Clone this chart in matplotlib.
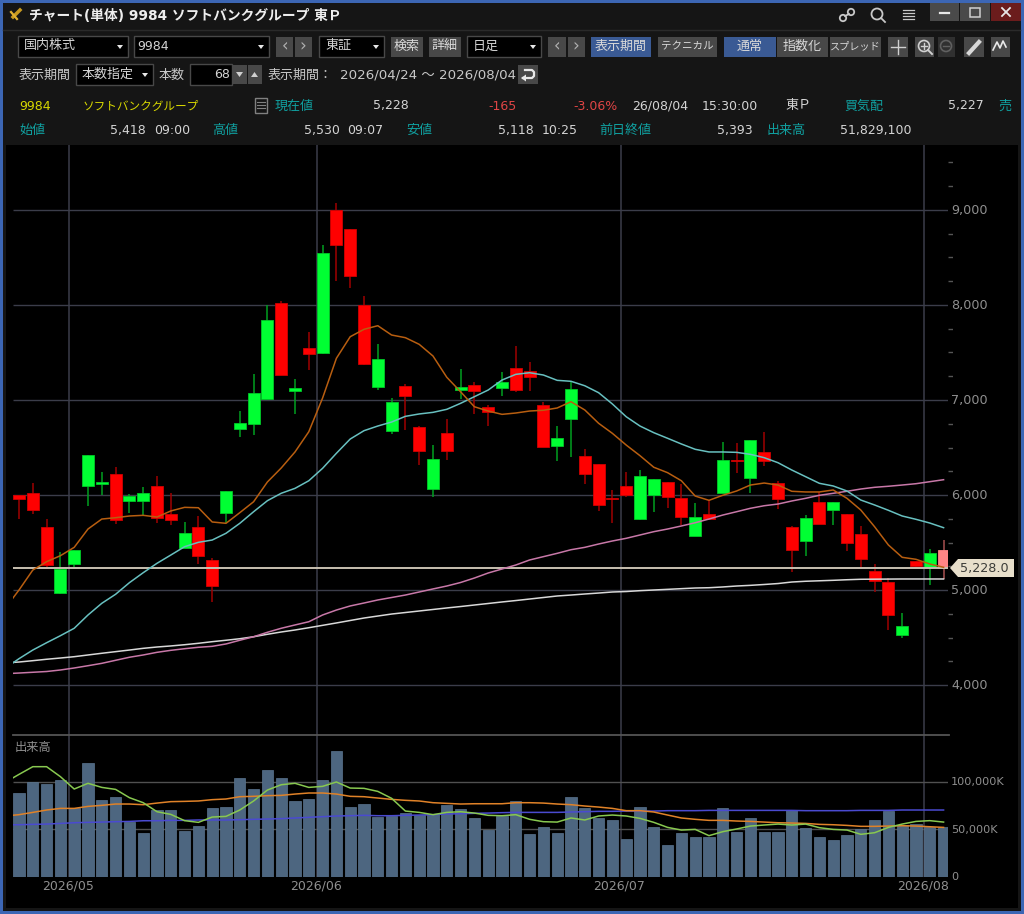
#!/usr/bin/env python3
"""チャート(単体) 9984 日足 - ローソク足 + 移動平均 + 出来高"""
import matplotlib
matplotlib.use("Agg")
import matplotlib.pyplot as plt
from matplotlib.patches import Rectangle, Polygon, Circle

plt.rcParams["font.family"] = ["DejaVu Sans", "Noto Sans CJK JP"]

W, H = 1024, 914

# ── data ──
opens = [6003, 6018, 5658, 4965, 5274, 6098, 6119, 6221, 5932, 5940, 6099, 5800, 5442, 5660, 5316, 5811, 6695,
         6747, 7014, 8021, 7095, 7551, 7492, 9003, 8803, 8000, 7137, 6669, 7151, 6716, 6063, 6649, 7105, 7155,
         6923, 7123, 7340, 7302, 6944, 6519, 6797, 6414, 6323, 5972, 6092, 5751, 5997, 6134, 5965, 5565, 5797,
         6018, 6372, 6179, 6453, 6126, 5663, 5519, 5929, 5842, 5800, 5586, 5200, 5084, 4523, 5305, 5245, 5418]
highs = [6003, 6123, 5750, 5397, 5424, 6424, 6242, 6291, 6010, 6087, 6204, 6018, 5719, 5779, 5341, 6042, 6884,
         7277, 7997, 8039, 7221, 7712, 8628, 9074, 8803, 8098, 7586, 7021, 7172, 6726, 6529, 6797, 7326, 7186,
         6944, 7295, 7565, 7397, 6976, 6726, 7197, 6487, 6323, 6049, 6242, 6266, 6172, 6134, 6116, 5919, 5947,
         6558, 6544, 6576, 6663, 6147, 5671, 5789, 6032, 5923, 5800, 5671, 5271, 5129, 4755, 5305, 5428, 5530]
lows = [5747, 5800, 5236, 4958, 5245, 5884, 6003, 5698, 5811, 5783, 5709, 5684, 5442, 5274, 4877, 5702, 6611,
        6635, 7007, 7266, 6856, 7316, 7484, 8256, 8176, 7368, 7102, 6639, 6687, 6313, 5976, 6368, 7007, 6853,
        6726, 7045, 7087, 7098, 6502, 6355, 6400, 6116, 5828, 5708, 5976, 5740, 5824, 5866, 5681, 5565, 5747,
        6018, 6228, 6018, 6305, 5856, 5189, 5361, 5692, 5684, 5407, 5218, 4979, 4579, 4498, 5239, 5056, 5118]
closes = [5961, 5845, 5263, 5221, 5424, 6424, 6137, 5742, 5989, 6018, 5762, 5742, 5597, 5358, 5037, 6042, 6758,
          7070, 7842, 7266, 7126, 7488, 8544, 8628, 8308, 7376, 7429, 6979, 7045, 6460, 6376, 6466, 7140, 7098,
          6877, 7189, 7108, 7239, 6508, 6600, 7119, 6224, 5892, 5958, 5997, 6197, 6172, 5976, 5768, 5765, 5747,
          6372, 6361, 6576, 6358, 5958, 5421, 5755, 5698, 5923, 5498, 5326, 5091, 4740, 4624, 5256, 5393, 5228]

# moving averages: first value belongs to the bar just before the window
ma_short = [4807, 5000, 5210, 5298, 5361, 5449, 5642, 5747, 5761, 5779, 5786, 5768, 5832, 5870, 5866, 5716, 5702,
            5814, 5929, 6137, 6284, 6453, 6666, 7021, 7439, 7666, 7744, 7782, 7684, 7656, 7586, 7463, 7239, 7087,
            6929, 6884, 6849, 6863, 6884, 6892, 6916, 6982, 6895, 6755, 6649, 6526, 6414, 6292, 6235, 6150, 5989,
            5944, 5997, 6042, 6105, 6126, 6105, 6039, 6032, 6032, 6053, 5965, 5842, 5666, 5474, 5344, 5323, 5274, 5239]
ma_mid = [4176, 4277, 4368, 4445, 4519, 4597, 4737, 4860, 4955, 5077, 5182, 5281, 5368, 5456, 5502, 5526, 5597,
          5702, 5824, 5940, 6018, 6070, 6150, 6281, 6439, 6589, 6677, 6726, 6768, 6828, 6853, 6870, 6902, 6965,
          7035, 7105, 7210, 7270, 7287, 7263, 7207, 7197, 7150, 7077, 6958, 6824, 6726, 6656, 6597, 6537, 6481,
          6453, 6453, 6449, 6428, 6393, 6340, 6263, 6193, 6123, 6095, 6042, 5947, 5895, 5839, 5779, 5744, 5705, 5656]
ma_long = [4119, 4126, 4134, 4142, 4158, 4179, 4203, 4228, 4260, 4292, 4316, 4344, 4365, 4382, 4397, 4407, 4432,
           4471, 4508, 4555, 4597, 4632, 4666, 4737, 4789, 4832, 4863, 4895, 4921, 4947, 4979, 5011, 5042, 5079,
           5126, 5179, 5221, 5263, 5316, 5351, 5386, 5424, 5449, 5484, 5516, 5544, 5579, 5614, 5642, 5674, 5708,
           5747, 5789, 5824, 5860, 5887, 5905, 5937, 5965, 5997, 6018, 6039, 6063, 6081, 6092, 6105, 6119, 6140, 6161]
ma_year = [4232, 4242, 4256, 4271, 4284, 4298, 4316, 4334, 4351, 4368, 4386, 4400, 4411, 4424, 4439, 4456, 4471,
           4487, 4508, 4534, 4558, 4579, 4603, 4628, 4653, 4679, 4705, 4726, 4747, 4763, 4779, 4795, 4811, 4826,
           4842, 4858, 4874, 4889, 4905, 4921, 4937, 4947, 4958, 4968, 4979, 4984, 4993, 5000, 5007, 5014, 5021,
           5024, 5032, 5042, 5049, 5058, 5068, 5084, 5092, 5097, 5102, 5108, 5113, 5114, 5115, 5116, 5116, 5116, 5116]

volume = [87700, 100000, 97500, 101800, 71900, 119300, 80700, 83500, 57200, 46300, 70200, 70200, 48400, 53700,
          71900, 73000, 103500, 91900, 111900, 103500, 79300, 81400, 101800, 132600, 73000, 76500, 63200, 64200,
          67400, 64900, 66000, 75400, 70900, 62100, 49100, 63900, 79700, 44900, 52600, 46000, 83500, 71900, 61400,
          60000, 40000, 73700, 52600, 33700, 46300, 42100, 41800, 72300, 47400, 62100, 47400, 47000, 69800, 51200,
          41400, 38600, 43500, 50200, 59700, 69500, 54400, 55400, 52600, 51829]
vol_ma_short = [99300, 107700, 115800, 115800, 105300, 92300, 98300, 94000, 91900, 83200, 77900, 68400, 65600,
                59000, 57200, 62800, 63500, 70200, 79700, 91200, 96800, 98300, 94000, 95100, 99700, 93300, 93000,
                89800, 82500, 69100, 67700, 65300, 67700, 68400, 67000, 64600, 64200, 65300, 60400, 57900, 57500,
                61800, 59700, 63900, 64900, 63900, 61400, 57200, 51900, 49100, 49800, 43200, 47400, 50200, 53300,
                54400, 55400, 54400, 55400, 51600, 49800, 49100, 44600, 46300, 51900, 55400, 58200, 59000, 57500]
vol_ma_mid = [63900, 65300, 67700, 70200, 71900, 71900, 74000, 75100, 76500, 76500, 75800, 77500, 79000, 79300,
              79700, 81100, 81800, 84200, 84600, 85300, 85600, 87000, 88100, 88100, 87000, 84600, 84200, 82800,
              81400, 80400, 79700, 77900, 77200, 76500, 76800, 76800, 76800, 77900, 77900, 77500, 76500, 75800,
              74400, 73300, 71900, 69500, 69500, 68100, 64900, 61800, 60400, 59300, 59300, 58600, 58200, 57500,
              56800, 56500, 56100, 55100, 54700, 54000, 53000, 53000, 53300, 53700, 53300, 52600, 51900]
vol_ma_long = [54600, 54700, 55100, 55400, 56100, 56800, 57200, 57500, 57900, 58200, 58900, 58900, 59300, 59300,
               59700, 59700, 59700, 60000, 60400, 60700, 61100, 61800, 62500, 63200, 63900, 64200, 64600, 64200,
               64200, 64600, 64900, 65300, 66000, 66300, 66700, 67000, 67400, 67700, 67700, 67700, 67700, 68100,
               68400, 68800, 68800, 69100, 69100, 69100, 69500, 69500, 69500, 69800, 69800, 69800, 69800, 69800,
               69800, 69800, 69500, 69500, 69500, 69500, 69800, 69800, 69800, 70200, 70200, 70200, 70200]

month_pos = [3.6, 21.6, 43.6, 65.6]
month_labels = ["2026/05", "2026/06", "2026/07", "2026/08"]
price_ticks = [4000, 5000, 6000, 7000, 8000, 9000]
price_minor = [4250, 4500, 4750, 5250, 5500, 5750, 6250, 6500, 6750, 7250, 7500, 7750, 8250, 8500, 8750, 9250, 9500]
vol_ticks = [50000, 100000]
last_price = 5228.0

BG = "#151515"; GRID = "#3b3d4a"; LABEL = "#8f8f8f"; TXT = "#d4d4d4"; TEAL = "#10a0a0"; YEL = "#d8d800"
BTN = "#484848"; BLUE = "#3a5a94"; UP = "#00ff33"; DOWN = "#ff0000"


def px_axes(x0, y0, x1, y1, **kw):
    return fig.add_axes([x0 / W, 1 - y1 / H, (x1 - x0) / W, (y1 - y0) / H], **kw)


fig = plt.figure(figsize=(W / 100, H / 100), dpi=100, facecolor=BG)

# ── window chrome (pixel coordinates) ──
ui = px_axes(0, 0, W, H, zorder=0)
ui.set_xlim(0, W); ui.set_ylim(H, 0); ui.axis("off")
top = px_axes(0, 0, W, H, zorder=5)
top.set_xlim(0, W); top.set_ylim(H, 0); top.axis("off"); top.patch.set_alpha(0)


def rect(x0, y0, x1, y1, fc, ec="none", lw=0.8):
    ui.add_patch(Rectangle((x0, y0), x1 - x0, y1 - y0, fc=fc, ec=ec, lw=lw))


def text(x, y, s, color=TXT, size=None, ha="left", **kw):
    if size is None:
        size = 9.0 if s.isascii() else 9.4
    top.text(x, y, s, color=color, fontsize=size, ha=ha, va="center", **kw)


def button(x0, y0, x1, y1, label="", fc=BTN, color="#d8d8d8", size=None):
    rect(x0, y0, x1, y1, fc)
    if label:
        text((x0 + x1) / 2, (y0 + y1) / 2 - 0.5, label, color=color, ha="center", size=size)


def combo(x0, y0, x1, y1, label, lx=None):
    rect(x0, y0, x1, y1, "#000000", ec="#484848", lw=1)
    text(lx or x0 + 6, (y0 + y1) / 2 - 0.5, label)
    top.add_patch(Polygon([(x1 - 11, y0 + 9), (x1 - 5, y0 + 9), (x1 - 8, y0 + 13)], fc="#e8e8e8", ec="none"))


def arrows(x0, y0, x1, y1):
    mid = (x0 + x1) / 2
    rect(x0, y0, mid - 1, y1, BTN); rect(mid + 1, y0, x1, y1, BTN)
    text((x0 + mid) / 2, (y0 + y1) / 2 - 1, "‹", color="#b0b0b0", ha="center", size=12)
    text((mid + x1) / 2, (y0 + y1) / 2 - 1, "›", color="#b0b0b0", ha="center", size=12)


rect(6, 145, 1018, 908, "#000000")
# blue frame
rect(0, 0, W, 2.5, "#3c66b4"); rect(0, 911, W, H, "#3c66b4"); rect(0, 0, 2.5, H, "#3c66b4"); rect(1021, 0, W, H, "#3c66b4")
ui.plot([3, 1020], [30, 30], color="#2a2a2a", lw=1)

# title bar
top.plot([13, 20], [17, 10], color="#c89a20", lw=2.5)
top.plot([11, 17], [12, 19], color="#e0b030", lw=1.6)
text(29, 16, "チャート(単体) 9984 ソフトバンクグループ 東Ｐ", color="#eeeeee", size=9.9, fontweight="bold")
top.add_patch(Circle((851, 12), 3.2, fc="none", ec="#c8c8c8", lw=1.3))
top.add_patch(Circle((843, 18), 3.2, fc="none", ec="#c8c8c8", lw=1.3))
top.plot([845, 849], [16, 14], color="#c8c8c8", lw=1.3)
top.add_patch(Circle((877, 14), 5.5, fc="none", ec="#c8c8c8", lw=1.3))
top.plot([881, 885], [18, 22], color="#c8c8c8", lw=1.3)
for yy in (10, 13, 16, 19):
    top.plot([903, 914], [yy, yy], color="#c8c8c8", lw=0.9)
rect(930, 3, 959, 21, "#4a4a4a"); rect(960, 3, 990, 21, "#4a4a4a"); rect(991, 3, 1021, 21, "#6b1c1c")
top.plot([940, 949], [13, 13], color="#e8e8e8", lw=1.6)
top.add_patch(Rectangle((970, 8), 10, 9, fc="none", ec="#d0d0d0", lw=1.1))
top.plot([1002, 1010], [8, 16], color="#e8e8e8", lw=1.3); top.plot([1002, 1010], [16, 8], color="#e8e8e8", lw=1.3)

# row 1
combo(18, 36, 128, 57, "国内株式"); combo(134, 36, 269, 57, "9984", lx=137)
arrows(276, 37, 312, 57)
combo(319, 36, 384, 57, "東証")
button(391, 37, 423, 57, "検索"); button(429, 37, 461, 57, "詳細")
combo(467, 36, 541, 57, "日足")
arrows(548, 37, 585, 57)
button(591, 37, 651, 57, "表示期間", fc=BLUE)
button(658, 37, 717, 57, "テクニカル", size=7.6)
button(724, 37, 776, 57, "通常", fc=BLUE)
button(777, 37, 828, 57, "指数化"); button(830, 37, 881, 57, "スプレッド", size=7.3)
button(888, 37, 908, 57); top.plot([898, 898], [40, 54], color="#d0d0d0", lw=1); top.plot([891, 905], [47, 47], color="#d0d0d0", lw=1)
button(915, 37, 934, 57); top.add_patch(Circle((924, 46), 5.5, fc="none", ec="#d0d0d0", lw=1.2))
top.plot([921, 927], [46, 46], color="#d0d0d0", lw=1); top.plot([924, 924], [43, 49], color="#d0d0d0", lw=1); top.plot([928, 932], [50, 54], color="#d0d0d0", lw=1.4)
button(938, 37, 955, 57, fc="#303030"); top.add_patch(Circle((946, 46), 5.5, fc="none", ec="#606060", lw=1.2))
top.plot([943, 949], [46, 46], color="#606060", lw=1)
button(964, 37, 984, 57); top.plot([969, 979], [53, 42], color="#d8d8d8", lw=3)
button(991, 37, 1010, 57); top.plot([993, 997, 1000, 1003, 1006], [50, 42, 48, 41, 47], color="#e8e8e8", lw=1.2)

# row 2
text(19, 75.5, "表示期間", color="#c8c8c8")
combo(76, 64, 153, 85, "本数指定")
text(159, 75.5, "本数", color="#c8c8c8")
rect(190, 64, 232, 85, "#000000", ec="#484848", lw=1)
text(230, 75, "68", ha="right")
rect(233, 65, 247, 84, BTN); rect(248, 65, 262, 84, BTN)
top.add_patch(Polygon([(236, 72), (243, 72), (239.5, 77)], fc="#d0d0d0", ec="none"))
top.add_patch(Polygon([(251, 77), (258, 77), (254.5, 72)], fc="#d0d0d0", ec="none"))
text(268, 75.5, "表示期間：", color="#c8c8c8")
text(340, 75.5, "2026/04/24 〜 2026/08/04", color="#c8c8c8", size=9.6)
button(518, 65, 538, 84)
top.plot([525, 532, 534, 534, 532, 523], [70, 70, 72, 76, 78, 78], color="#e8e8e8", lw=1.6)
top.add_patch(Polygon([(521, 78), (526, 74.5), (526, 81.5)], fc="#e8e8e8", ec="none"))

# row 3 / row 4
text(19, 106, "9984", color=YEL); text(83, 106, "ソフトバンクグループ", color=YEL, size=8.4)
top.add_patch(Rectangle((255, 98), 12, 15, fc="none", ec="#808080", lw=1))
for yy in (102, 105, 108):
    top.plot([257, 265], [yy, yy], color="#808080", lw=0.8)
text(275, 106, "現在値", color=TEAL); text(373, 106, "5,228")
text(517, 106, "-165", color="#e04545", ha="right"); text(618, 106, "-3.06%", color="#e04545", ha="right")
text(632, 106, "26/08/04"); text(702, 106, "15:30:00"); text(785, 106, "東Ｐ")
text(844, 106, "買気配", color=TEAL); text(984, 106, "5,227", ha="right"); text(998, 106, "売", color=TEAL)
for x, s, c in [(19, "始値", TEAL), (110, "5,418", TXT), (154, "09:00", TXT), (212, "高値", TEAL), (304, "5,530", TXT),
                (347, "09:07", TXT), (406, "安値", TEAL), (498, "5,118", TXT), (542, "10:25", TXT), (599, "前日終値", TEAL),
                (717, "5,393", TXT), (767, "出来高", TEAL), (840, "51,829,100", TXT)]:
    text(x, 130.5, s, color=c)

# ── price panel ──
ax = px_axes(13, 145, 948, 735, zorder=2)
ax.patch.set_alpha(0)
ax.set_xlim(-0.435, 67.32)
ax.set_ylim(3473.7, 9684.2)
ax.set_axis_off()
ax.hlines(price_ticks, -0.435, 67.32, color=GRID, lw=1, zorder=1)
ax.vlines(month_pos, 3473.7, 9684.2, color=GRID, lw=1.1, zorder=1)
bars = list(range(len(closes)))
for i in bars:
    up = closes[i] >= opens[i]
    body = UP if up else DOWN
    wick = "#00a020" if up else "#a00000"
    edge = "#00c828" if up else "#d00000"
    if i == bars[-1]:
        body, wick, edge = "#ff8585", "#a85050", "#ff8585"
    ax.vlines(i, lows[i], highs[i], color=wick, lw=1.1, zorder=2)
    ax.bar(i, abs(closes[i] - opens[i]), bottom=min(opens[i], closes[i]), width=0.86, color=body, edgecolor=edge,
           lw=0.6, zorder=3)
ma_x = [-1] + bars
ax.axhline(last_price, color="#c8c0b0", lw=1.4, zorder=4)
ax.plot(ma_x, ma_year, color="#d8d8d8", lw=1.1, zorder=4)
ax.plot(ma_x, ma_long, color="#c878a8", lw=1.1, zorder=5)
ax.plot(ma_x, ma_mid, color="#68c0c0", lw=1.1, zorder=5)
ax.plot(ma_x, ma_short, color="#b85e10", lw=1.1, zorder=5)

# right-hand scale
pr = px_axes(948, 145, 953, 735, zorder=3)
pr.patch.set_alpha(0); pr.set_xlim(948, 953); pr.set_ylim(3473.7, 9684.2); pr.set_axis_off()
pr.hlines(price_minor, 948, 953, color="#555555", lw=1)
for p in price_ticks:
    text(951, 685.5 - (p - 4000) * 0.095, f"{p:,}", color=LABEL, size=9.2)

# tag with last price
top.add_patch(Polygon([(950, 568), (958, 559), (1014, 559), (1014, 577), (958, 577)], fc="#e8dfcb", ec="none"))
text(984, 568.5, f"{last_price:,.1f}", color="#3c3c38", ha="center", size=9.2)

# ── volume panel ──
vx = px_axes(13, 735, 948, 876.7, zorder=2)
vx.patch.set_alpha(0)
vx.set_xlim(-0.435, 67.32)
vx.set_ylim(0, 149158)
vx.set_axis_off()
vx.vlines(month_pos, 0, 149158, color=GRID, lw=1.1, zorder=1)
vx.hlines(vol_ticks, -0.435, 67.32, color="#505050", lw=1, zorder=1)
vx.bar(bars, volume, width=0.8, color="#4d6680", edgecolor="#5a7590", lw=0.5, zorder=2)
vx.plot(ma_x, vol_ma_long, color="#4a4ad0", lw=1.1, zorder=3)
vx.plot(ma_x, vol_ma_mid, color="#e08228", lw=1.1, zorder=3)
vx.plot(ma_x, vol_ma_short, color="#88c850", lw=1.1, zorder=4)
top.plot([13, 949], [735, 735], color="#555555", lw=1.3)

text(15, 748, "出来高", color=LABEL, size=8.8)
text(951, 782, "100,000K", color=LABEL, size=8.1)
text(951, 830, "50,000K", color=LABEL, size=8.1)
text(951, 877, "0", color=LABEL, size=8.1)
for x, s in zip([68, 316, 619, 923], month_labels):
    text(x, 886, s, color=LABEL, ha="center", size=9)

fig.savefig("out.png", dpi=100, facecolor=BG)
